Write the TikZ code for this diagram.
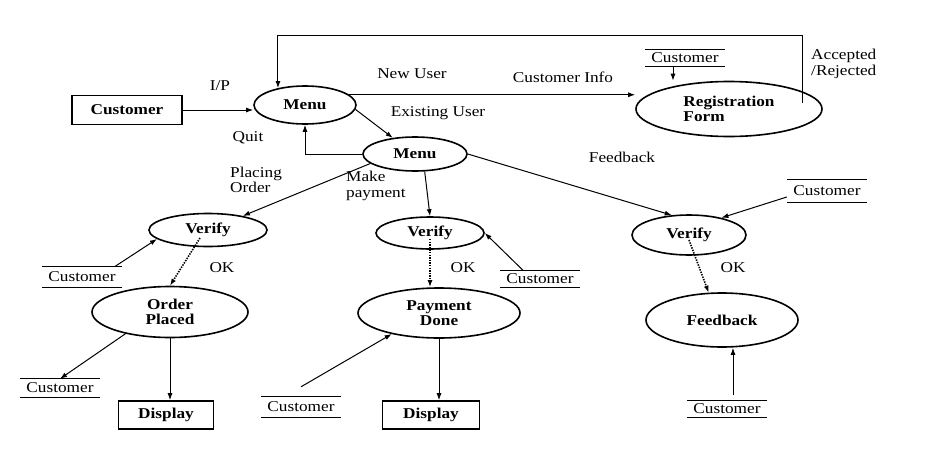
\documentclass[tikz,border=0pt]{standalone}
\usepackage{fontspec}
\setmainfont{Liberation Serif}[FakeStretch=1.15]
\usetikzlibrary{shapes.geometric,arrows.meta,calc}
\begin{document}
\begin{tikzpicture}[x=1pt,y=-1pt,
  font=\fontsize{15}{15.5}\selectfont,
  proc/.style={ellipse,draw,line width=1.6pt,inner sep=0pt,align=center,font=\fontsize{15}{15.5}\selectfont\bfseries},
  ent/.style={rectangle,draw,line width=1.6pt,inner sep=0pt,font=\fontsize{15}{15.5}\selectfont\bfseries},
  store/.style={inner sep=0pt,minimum width=80pt,minimum height=19pt,
     append after command={(\tikzlastnode.north west) edge[line width=1pt] (\tikzlastnode.north east)
                           (\tikzlastnode.south west) edge[line width=1pt] (\tikzlastnode.south east)}},
  arr/.style={-{Latex[length=7pt,width=5pt]},line width=1pt},
  dotarr/.style={-{Latex[length=7pt,width=5pt]},line width=1.6pt,dash pattern=on 1.4pt off 1.2pt},
  lbl/.style={inner sep=0pt}
]
\fill[white] (0,0) rectangle (939,450);
\useasboundingbox (0,0) rectangle (939,450);

% processes and entities
\node[ent,minimum width=110pt,minimum height=29pt] (cust) at (127,110) {Customer};
\node[proc,minimum width=102pt,minimum height=38pt] (menu1) at (305,105) {Menu};
\node[proc,minimum width=186pt,minimum height=55pt,align=left] (reg) at (729,109) {Registration\\Form};
\node[proc,minimum width=104pt,minimum height=34pt] (menu2) at (415,154) {Menu};
\node[proc,minimum width=118pt,minimum height=33pt] (v1) at (208,230) {Verify};
\node[proc,minimum width=108pt,minimum height=32pt] (v2) at (430,233) {Verify};
\node[proc,minimum width=114pt,minimum height=40pt] (v3) at (689,235) {Verify};
\node[proc,minimum width=156pt,minimum height=51pt] (op) at (170,312) {Order\\Placed};
\node[proc,minimum width=162pt,minimum height=50pt] (pd) at (439,313) {Payment\\Done};
\node[proc,minimum width=152pt,minimum height=54pt] (fb) at (722,320) {Feedback};
\node[ent,minimum width=95pt,minimum height=28pt] (d1) at (166,415) {Display};
\node[ent,minimum width=97pt,minimum height=28pt] (d2) at (431,415) {Display};

% data stores
\node[store,minimum height=17pt] (cs7) at (685,58) {Customer};
\node[store,minimum height=22pt] (cs5) at (827,191) {Customer};
\node[store,minimum height=21pt] (cs1) at (82,277) {Customer};
\node[store,minimum height=17pt] (cs3) at (540,279) {Customer};
\node[store,minimum height=18pt] (cs2) at (60,388) {Customer};
\node[store,minimum height=20pt] (cs4) at (301,407) {Customer};
\node[store,minimum height=17pt] (cs6) at (727,409) {Customer};

% helper coordinates
\coordinate (top) at (0,35);
\coordinate (loopA) at ([xshift=73pt,yshift=6pt]reg.center);
\coordinate (s7) at ([xshift=-12pt]cs7.south);
\coordinate (s1) at ([xshift=-7pt]cs1.north east);
\coordinate (d1s) at ([xshift=-8pt,yshift=-8pt]v1.center);
\coordinate (d2s) at ([yshift=-6pt]v2.center);
\coordinate (s3) at ([xshift=-17pt]cs3.north);
\coordinate (s4) at ([yshift=10pt]cs4.north);
\coordinate (s5) at ([yshift=-6pt]cs5.west);
\coordinate (d3s) at ([yshift=-5pt]v3.center);
\coordinate (s6) at ([xshift=6pt,yshift=5pt]cs6.north);

% connectors
\draw[arr] (loopA) -- (loopA |- top) -| (menu1.148);
\draw[arr] (cust.east) -- (cust.east -| menu1.west);
\draw[arr] (menu1.13) -- (menu1.13 -| reg.west);
\draw[arr] (menu1.-5) -- (menu2.144);
\draw[arr] (menu2.west) -| (menu1.south);
\draw[arr] (menu2.192) -- (v1.22);
\draw[arr] (menu2.-61) -- (v2.north);
\draw[arr] (menu2.east) -- (v3.131);
\draw[arr] (s7) -- (s7 |- reg.north);
\draw[arr] (s1) -- (v1.190);
\draw[dotarr] (d1s) -- (op.north);
\draw[arr] (op.206) -- (cs2.north);
\draw[arr] (op.south) -- (op.south |- d1.north);
\draw[dotarr] (d2s) -- (d2s |- pd.north);
\draw[arr] (s3) -- (v2.east);
\draw[arr] (s4) -- (pd.204);
\draw[arr] (pd.south) -- (pd.south |- d2.north);
\draw[arr] (s5) -- (v3.28);
\draw[dotarr] (d3s) -- (fb.116);
\draw[arr] (s6) -- (s6 |- fb.south);

% labels
\node[lbl] (lip) at (220,86) {I/P};
\node[lbl] (lnew) at (412,74) {New User};
\node[lbl] (linfo) at (563,77) {Customer Info};
\node[lbl] (lexist) at (438,113) {Existing User};
\node[lbl] (lquit) at (248,138) {Quit};
\node[lbl,align=left,anchor=west] (lplace) at (230,180) {Placing\\Order};
\node[lbl,align=left,anchor=west] (lpay) at (346,186) {Make\\payment};
\node[lbl] (lfb) at (622,157) {Feedback};
\node[lbl] (lok1) at (222,268) {OK};
\node[lbl] (lok2) at (463,268) {OK};
\node[lbl] (lok3) at (733,268) {OK};
\node[lbl,align=left,anchor=west] (lacc) at (811,64) {Accepted\\/Rejected};
\end{tikzpicture}
\end{document}
